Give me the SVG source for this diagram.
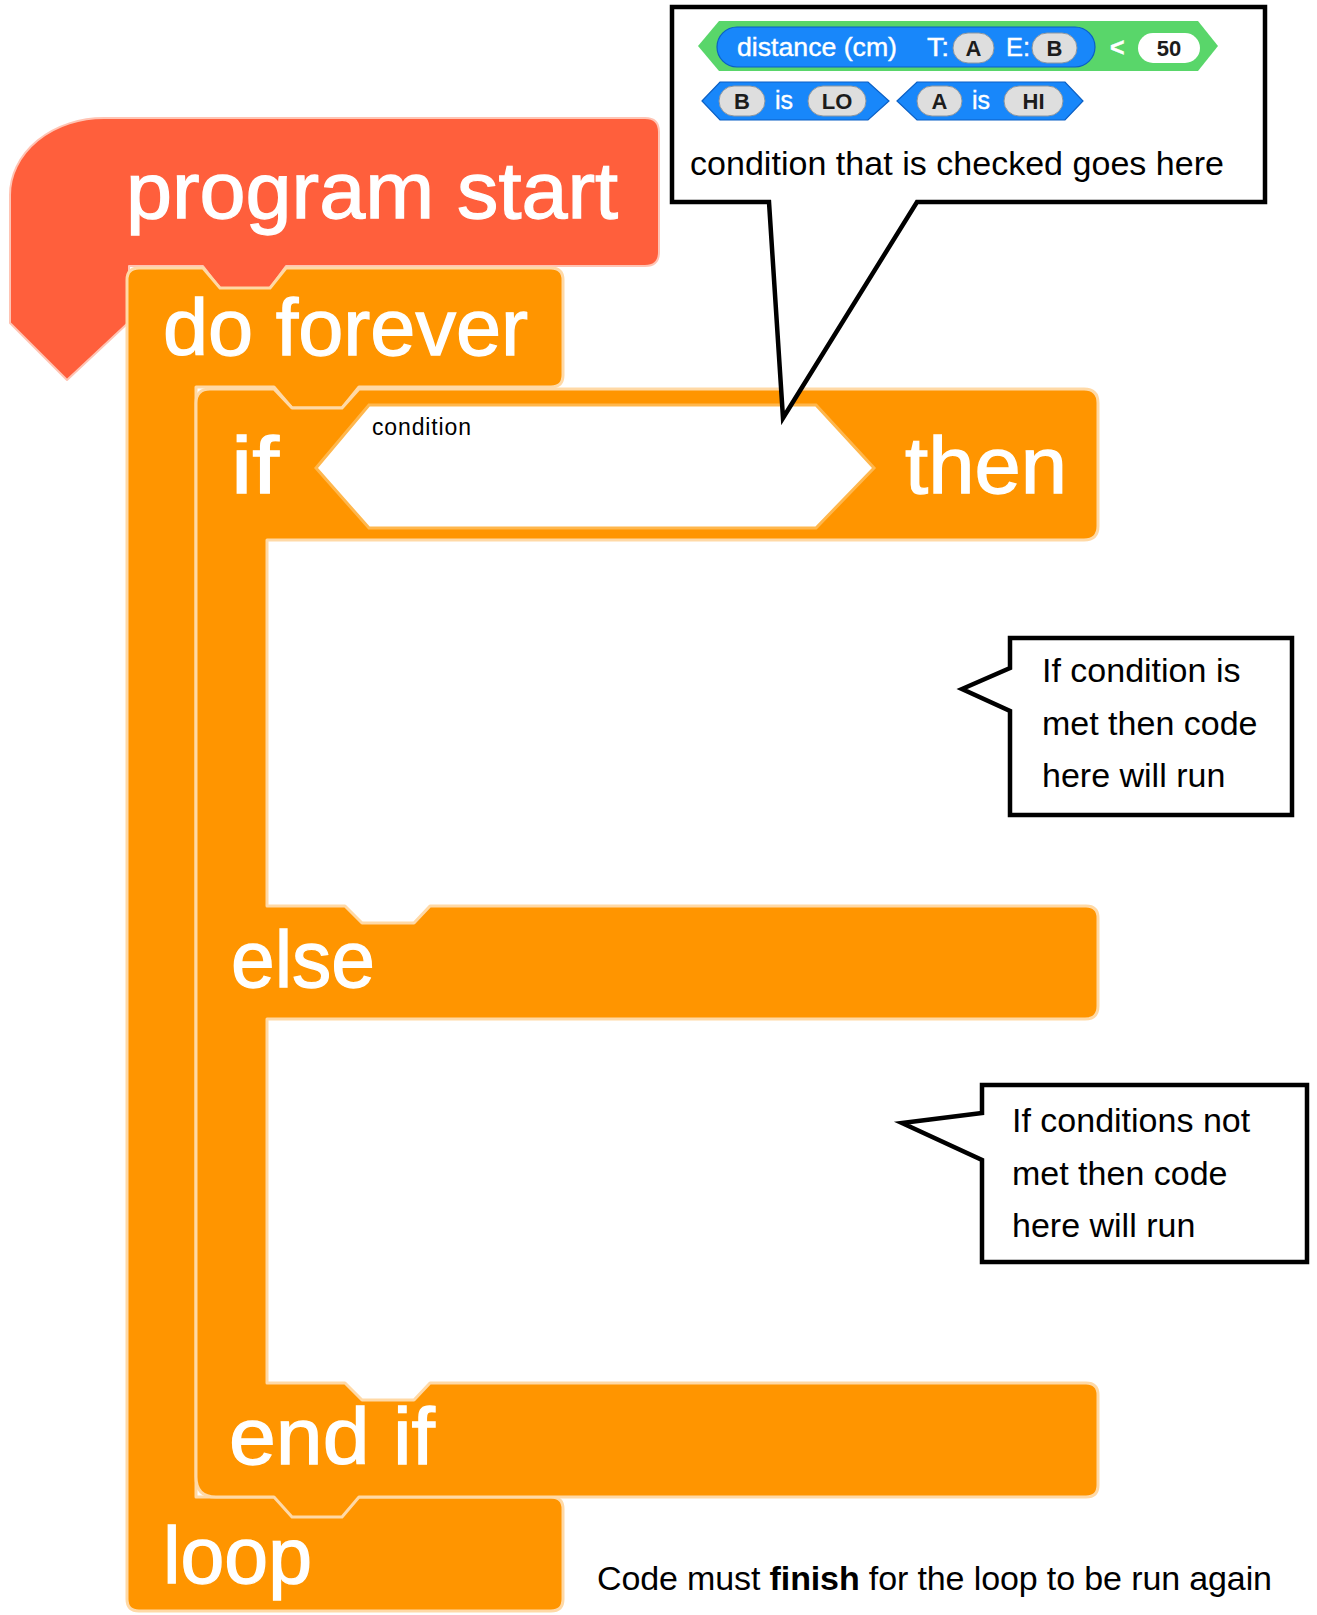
<svg xmlns="http://www.w3.org/2000/svg" width="1317" height="1615" viewBox="0 0 1317 1615">
<style>
.blk{font-family:"Liberation Sans",Arial,sans-serif;font-size:80px;fill:#fff;stroke:#fff;stroke-width:1.3}
.note{font-family:"Liberation Sans",Arial,sans-serif;font-size:34px;fill:#000}
.bubble{fill:#fff;stroke:#000;stroke-width:4.5;stroke-linejoin:miter;stroke-miterlimit:6}
.orange{fill:#FF9500;stroke:#FFD9A6;stroke-width:3;stroke-linejoin:round}
.red{fill:#FF5F3C;stroke:#FFC4B4;stroke-width:2;stroke-linejoin:round}
.pill{fill:#DEDEDE;stroke:#8C96A0;stroke-width:1}
.ptxt{font-family:"Liberation Sans",Arial,sans-serif;font-weight:bold;font-size:22px;fill:#1C1C1C;text-anchor:middle}
.wtxt{font-family:"Liberation Sans",Arial,sans-serif;font-size:25px;fill:#fff;stroke:#fff;stroke-width:0.4}
.blue{fill:#1887FA;stroke:#0B5FC4;stroke-width:1.2}
</style>
<g id="connectors"></g>
<g id="program-start">
<path class="red" d="M 10,195 A 94 77 0 0 1 104,118 L 645,118 Q 659,118 659,132 L 659,252 Q 659,266 645,266 L 286,266 L 270,288 L 220,288 L 203,266 L 129,266 L 129,322 L 67,380 L 10,323 Z"/>
<text class="blk" x="126" y="218" font-size="82" textLength="492" lengthAdjust="spacingAndGlyphs">program start</text>
</g>
<g id="do-forever">
<path class="orange" d="M 127,280 Q 127,268 139,268 L 203,268 L 220,288 L 270,288 L 286,268 L 551,268 Q 563,268 563,280 L 563,375 Q 563,387 551,387 L 359,387 L 342,408 L 292,408 L 274,387 L 196,387 L 196,1497 L 551,1497 Q 563,1497 563,1509 L 563,1599 Q 563,1611 551,1611 L 139,1611 Q 127,1611 127,1599 Z"/>
<text class="blk" x="163" y="355" textLength="365" lengthAdjust="spacingAndGlyphs">do forever</text>
<text class="blk" x="163" y="1583" textLength="149" lengthAdjust="spacingAndGlyphs">loop</text>
</g>
<g id="if-block">
<path class="orange" d="M 196,403 Q 196,389 210,389 L 274,389 L 292,408 L 342,408 L 359,389 L 1084,389 Q 1098,389 1098,403 L 1098,526 Q 1098,540 1084,540 L 267,540 L 267,906 L 345,906 L 362,923 L 414,923 L 430,906 L 1086,906 Q 1098,906 1098,918 L 1098,1006 Q 1098,1019 1085,1019 L 267,1019 L 267,1383 L 345,1383 L 362,1400 L 414,1400 L 430,1383 L 1086,1383 Q 1098,1383 1098,1395 L 1098,1485 Q 1098,1497 1086,1497 L 359,1497 L 342,1517 L 292,1517 L 274,1497 L 216,1497 Q 196,1497 196,1477 Z"/>
<polygon points="316,468 369,405 816,405 874,468 816,528 369,528" fill="#fff" stroke="#FFB74D" stroke-width="3"/>
<text x="372" y="435" font-family="Liberation Sans, Arial, sans-serif" font-size="23" fill="#000" textLength="99">condition</text>
<text class="blk" x="231" y="493" textLength="48" lengthAdjust="spacingAndGlyphs">if</text>
<text class="blk" x="905" y="493" textLength="162" lengthAdjust="spacingAndGlyphs">then</text>
<text class="blk" x="231" y="987" textLength="144" lengthAdjust="spacingAndGlyphs">else</text>
<text class="blk" x="229" y="1464" textLength="206" lengthAdjust="spacingAndGlyphs">end if</text>
</g>
<g id="callout-condition">
<path class="bubble" d="M 672,7 L 1265,7 L 1265,202 L 917,202 L 783,418 L 769,202 L 672,202 Z"/>
<polygon points="698,46 719,21 1198,21 1218,46 1198,71 719,71" fill="#59D66A"/>
<rect class="blue" x="717" y="27" width="378" height="40" rx="20"/>
<text class="wtxt" x="737" y="56" textLength="160" lengthAdjust="spacingAndGlyphs">distance (cm)</text>
<text class="wtxt" x="927" y="56" textLength="22" lengthAdjust="spacingAndGlyphs">T:</text>
<rect class="pill" x="953" y="33" width="41" height="30" rx="15"/>
<text class="ptxt" x="973.5" y="56">A</text>
<text class="wtxt" x="1006" y="56" textLength="24" lengthAdjust="spacingAndGlyphs">E:</text>
<rect class="pill" x="1032" y="33" width="45" height="30" rx="15"/>
<text class="ptxt" x="1054.5" y="56">B</text>
<text class="wtxt" x="1110" y="56" font-weight="bold">&lt;</text>
<rect x="1138" y="33" width="62" height="30" rx="15" fill="#fff"/>
<text class="ptxt" x="1169" y="56">50</text>
<polygon class="blue" points="702,101 720,82 868,82 889,101 868,120 720,120"/>
<rect class="pill" x="719" y="86" width="46" height="30" rx="15"/>
<text class="ptxt" x="742" y="109">B</text>
<text class="wtxt" x="775" y="109">is</text>
<rect class="pill" x="808" y="86" width="58" height="30" rx="15"/>
<text class="ptxt" x="837" y="109">LO</text>
<polygon class="blue" points="897,101 917,82 1065,82 1083,101 1065,120 917,120"/>
<rect class="pill" x="917" y="86" width="45" height="30" rx="15"/>
<text class="ptxt" x="939.5" y="109">A</text>
<text class="wtxt" x="972" y="109">is</text>
<rect class="pill" x="1004" y="86" width="59" height="30" rx="15"/>
<text class="ptxt" x="1033.5" y="109">HI</text>
<text class="note" x="690" y="175" textLength="534">condition that is checked goes here</text>
</g>
<g id="callout-then">
<path class="bubble" stroke-width="5" d="M 1010,638 L 1292,638 L 1292,815 L 1010,815 L 1010,711 L 962,689 L 1010,668 Z"/>
<text class="note" x="1042" y="682">If condition is</text>
<text class="note" x="1042" y="735">met then code</text>
<text class="note" x="1042" y="787">here will run</text>
</g>
<g id="callout-else">
<path class="bubble" stroke-width="5" d="M 982,1085 L 1307,1085 L 1307,1262 L 982,1262 L 982,1160 L 902,1123 L 982,1113 Z"/>
<text class="note" x="1012" y="1132">If conditions not</text>
<text class="note" x="1012" y="1185">met then code</text>
<text class="note" x="1012" y="1237">here will run</text>
</g>
<g id="loop-note">
<text class="note" x="597" y="1590" textLength="675">Code must <tspan font-weight="bold">finish</tspan> for the loop to be run again</text>
</g>
</svg>
